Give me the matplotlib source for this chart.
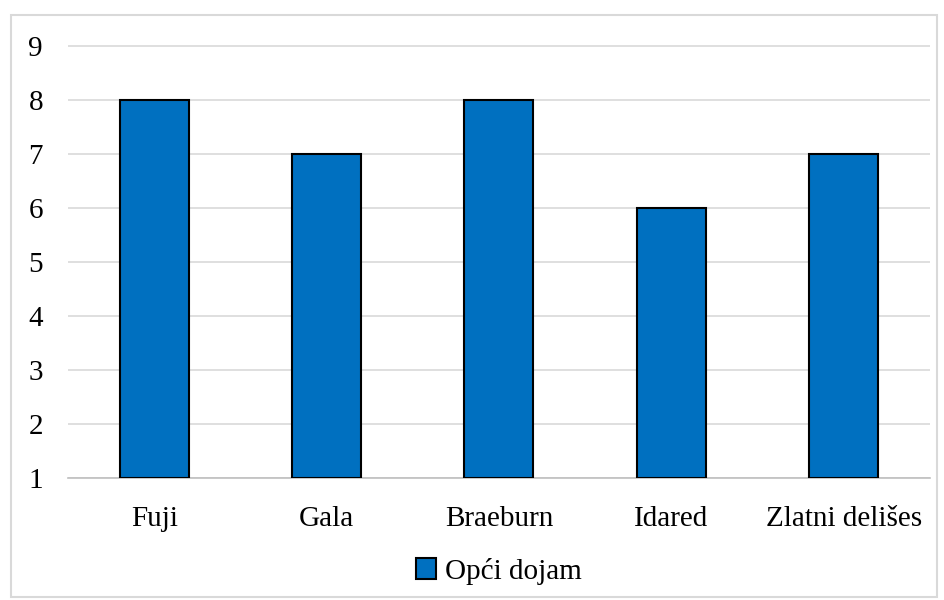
import matplotlib.pyplot as plt
from matplotlib.patches import Rectangle

# data
categories = ['Fuji', 'Gala', 'Braeburn', 'Idared', 'Zlatni delišes']
values = [8, 7, 8, 6, 7]
series_name = 'Opći dojam'

plt.rcParams['font.family'] = ['Liberation Serif', 'DejaVu Serif']

fig = plt.figure(figsize=(9.45, 6), dpi=100)
ax = fig.add_axes([0.072, 0.203, 0.912, 0.722])

ax.bar(range(len(categories)), values, width=0.4, bottom=1,
       color='#0070C0', edgecolor='black', linewidth=1.5, zorder=3,
       label=series_name)
# bar heights count from 1 so subtract the base
for p, v in zip(ax.patches, values):
    p.set_height(v - 1)

ax.set_xlim(-0.5, len(categories) - 0.5)
ax.set_ylim(1, 9.01)
ax.set_yticks(range(1, 10))
ax.set_xticks(range(len(categories)))
ax.set_xticklabels(categories)
ax.tick_params(axis='both', length=0, labelsize=21)
ax.tick_params(axis='x', pad=20)
ax.tick_params(axis='y', pad=18)
ax.grid(axis='y', color='#d9d9d9', linewidth=1.2, zorder=0)
for s in ['top', 'right', 'left']:
    ax.spines[s].set_visible(False)
ax.spines['bottom'].set_color('#bfbfbf')
ax.spines['bottom'].set_linewidth(1.2)

ax.legend(loc='center', bbox_to_anchor=(0.5, -0.215), frameon=False,
          fontsize=21, handlelength=0.7, handleheight=0.7, handletextpad=0.3)

fig.patches.append(Rectangle((11 / 945, 3 / 600), 926 / 945, 582 / 600,
                             transform=fig.transFigure, fill=False,
                             edgecolor='#d9d9d9', linewidth=1.5))

plt.savefig('out.png')
